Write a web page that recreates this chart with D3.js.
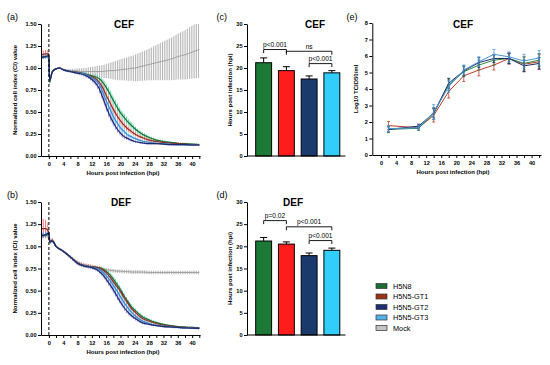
<!DOCTYPE html>
<html><head><meta charset="utf-8">
<script src="https://cdn.jsdelivr.net/npm/d3@7"></script>
<style>body{margin:0;background:#fff}svg{display:block}</style>
</head><body><svg id="c" width="550" height="365"></svg>
<script>
// ---------------- DATA ----------------
const groups = ["H5N8","H5N5-GT1","H5N5-GT2","H5N5-GT3","Mock"];
const hpi = [-2,-1,0,0.2,1,2,3,4,6,8,10,12,13,14,15,16,17,18,19,20,21,22,23,24,26,28,30,32,34,36,38,40,42];

// (a) CEF normalized cell index
const cefH5N8 = [1.12,1.13,1.13,0.84,0.96,0.99,1.0,0.98,0.96,0.95,0.935,0.91,0.90,0.88,0.84,0.78,0.71,0.63,0.56,0.49,0.44,0.39,0.35,0.31,0.25,0.21,0.18,0.165,0.155,0.145,0.14,0.135,0.13];
const cefGT1  = [1.15,1.16,1.16,0.86,0.96,0.99,1.0,0.98,0.96,0.95,0.93,0.90,0.88,0.84,0.78,0.69,0.61,0.53,0.46,0.40,0.35,0.31,0.28,0.25,0.21,0.18,0.165,0.155,0.145,0.14,0.135,0.13,0.13];
const cefGT2  = [1.12,1.13,1.14,0.86,0.96,0.99,1.0,0.98,0.96,0.94,0.92,0.87,0.83,0.77,0.67,0.56,0.46,0.38,0.31,0.26,0.22,0.20,0.18,0.165,0.15,0.14,0.14,0.135,0.13,0.13,0.13,0.125,0.125];
const cefGT3  = [1.12,1.13,1.13,0.86,0.96,0.99,1.0,0.98,0.96,0.945,0.93,0.89,0.86,0.82,0.73,0.63,0.54,0.45,0.38,0.32,0.28,0.24,0.22,0.20,0.17,0.155,0.145,0.14,0.135,0.13,0.13,0.125,0.125];
const cefMock = [1.13,1.14,1.14,0.88,0.97,0.99,1.0,0.98,0.97,0.965,0.96,0.96,0.96,0.96,0.96,0.965,0.97,0.97,0.975,0.98,0.985,0.99,0.995,1.0,1.02,1.04,1.06,1.08,1.1,1.13,1.15,1.18,1.21];
const cefSdH5N8 = [0.02,0.02,0.02,0.03,0.01,0.005,0.005,0.01,0.01,0.015,0.02,0.02,0.025,0.03,0.04,0.045,0.05,0.05,0.05,0.045,0.045,0.04,0.035,0.03,0.025,0.02,0.015,0.015,0.01,0.01,0.01,0.01,0.01];
const cefSdGT1  = [0.04,0.045,0.04,0.03,0.01,0.005,0.005,0.01,0.01,0.015,0.02,0.025,0.03,0.04,0.045,0.05,0.05,0.05,0.045,0.045,0.04,0.035,0.03,0.025,0.02,0.02,0.015,0.015,0.01,0.01,0.01,0.01,0.01];
const cefSdGT2  = [0.02,0.02,0.02,0.03,0.01,0.005,0.005,0.01,0.01,0.015,0.02,0.025,0.03,0.04,0.045,0.045,0.045,0.04,0.035,0.03,0.025,0.02,0.015,0.015,0.01,0.01,0.01,0.01,0.01,0.01,0.01,0.01,0.01];
const cefSdGT3  = [0.025,0.025,0.02,0.03,0.01,0.005,0.005,0.01,0.01,0.015,0.02,0.025,0.03,0.04,0.045,0.05,0.05,0.045,0.04,0.035,0.03,0.025,0.02,0.015,0.015,0.01,0.01,0.01,0.01,0.01,0.01,0.01,0.01];
const cefSdMock = [0.03,0.03,0.03,0.03,0.01,0.01,0.01,0.015,0.02,0.03,0.04,0.055,0.06,0.065,0.07,0.08,0.09,0.1,0.11,0.12,0.125,0.135,0.14,0.15,0.165,0.18,0.2,0.22,0.24,0.26,0.28,0.3,0.32];

// (b) DEF normalized cell index
const defH5N8 = [1.12,1.12,1.14,1.05,1.06,1.0,0.97,0.945,0.88,0.81,0.78,0.77,0.765,0.76,0.745,0.72,0.68,0.63,0.57,0.51,0.44,0.38,0.32,0.28,0.21,0.17,0.14,0.12,0.105,0.095,0.09,0.085,0.08];
const defGT1  = [1.2,1.2,1.16,1.06,1.07,1.0,0.97,0.945,0.88,0.815,0.785,0.77,0.765,0.755,0.735,0.70,0.655,0.60,0.545,0.49,0.42,0.36,0.30,0.26,0.19,0.155,0.13,0.11,0.1,0.09,0.085,0.08,0.078];
const defGT2  = [1.12,1.13,1.15,1.05,1.06,1.0,0.97,0.945,0.88,0.81,0.775,0.76,0.745,0.72,0.68,0.63,0.57,0.51,0.44,0.37,0.31,0.26,0.22,0.19,0.14,0.12,0.105,0.095,0.09,0.085,0.08,0.078,0.075];
const defGT3  = [1.13,1.13,1.15,1.05,1.06,1.0,0.97,0.945,0.88,0.81,0.78,0.765,0.755,0.74,0.71,0.67,0.62,0.56,0.5,0.43,0.365,0.31,0.26,0.22,0.16,0.13,0.11,0.1,0.09,0.085,0.08,0.078,0.075];
const defMock = [1.12,1.12,1.14,1.05,1.06,1.0,0.97,0.945,0.88,0.81,0.78,0.765,0.755,0.745,0.74,0.735,0.73,0.725,0.72,0.72,0.715,0.715,0.71,0.71,0.71,0.705,0.705,0.705,0.705,0.705,0.705,0.705,0.705];
const defSdH5N8 = [0.03,0.03,0.02,0.02,0.02,0.01,0.01,0.01,0.015,0.015,0.015,0.015,0.015,0.02,0.02,0.025,0.03,0.035,0.035,0.035,0.035,0.03,0.03,0.025,0.02,0.015,0.015,0.01,0.01,0.01,0.01,0.01,0.01];
const defSdGT1  = [0.11,0.1,0.06,0.03,0.02,0.01,0.01,0.015,0.02,0.025,0.025,0.025,0.02,0.02,0.025,0.03,0.035,0.035,0.035,0.035,0.03,0.03,0.025,0.025,0.02,0.015,0.015,0.01,0.01,0.01,0.01,0.01,0.01];
const defSdGT2  = [0.03,0.03,0.02,0.02,0.02,0.01,0.01,0.01,0.015,0.015,0.015,0.015,0.02,0.02,0.025,0.03,0.035,0.035,0.035,0.03,0.03,0.025,0.02,0.02,0.015,0.01,0.01,0.01,0.01,0.01,0.01,0.01,0.01];
const defSdGT3  = [0.03,0.03,0.02,0.02,0.02,0.01,0.01,0.01,0.015,0.015,0.015,0.015,0.02,0.02,0.025,0.03,0.035,0.04,0.04,0.035,0.035,0.03,0.025,0.02,0.02,0.015,0.01,0.01,0.01,0.01,0.01,0.01,0.01];
const defSdMock = [0.03,0.03,0.02,0.02,0.02,0.01,0.01,0.01,0.015,0.02,0.02,0.02,0.02,0.02,0.02,0.02,0.02,0.02,0.02,0.02,0.02,0.02,0.02,0.02,0.02,0.02,0.02,0.02,0.02,0.02,0.02,0.02,0.02];

// (c),(d) time to CPE (hpi), mean and error
const barGroups = ["H5N8","H5N5-GT1","H5N5-GT2","H5N5-GT3"];
const cefBarMean = [21.2,19.4,17.5,18.9];
const cefBarErr  = [1.1,0.9,0.7,0.5];
const defBarMean = [21.2,20.5,17.9,19.1];
const defBarErr  = [0.8,0.5,0.6,0.5];
// significance brackets: [fromIndex, toIndex, level (hpi), label]
const cefSig = [[0,1,24.2,"p<0.001"],[1,3,23.8,"ns"],[2,3,21.0,"p<0.001"]];
const defSig = [[0,1,25.8,"p=0.02"],[1,3,24.4,"p<0.001"],[2,3,21.3,"p<0.001"]];

// (e) CEF virus titres
const titreHpi = [2,10,14,18,22,26,30,34,38,42];
const titH5N8 = [1.55,1.62,2.5,4.25,5.05,5.45,5.75,5.85,5.55,5.75];
const titGT1  = [1.78,1.65,2.4,3.85,4.8,5.15,5.45,5.85,5.5,5.65];
const titGT2  = [1.55,1.75,2.55,4.35,5.1,5.6,5.85,5.85,5.4,5.55];
const titGT3  = [1.6,1.65,2.6,4.15,5.15,5.65,6.1,5.95,5.7,5.88];
const titSdH5N8 = [0.2,0.12,0.35,0.35,0.3,0.3,0.3,0.3,0.4,0.4];
const titSdGT1  = [0.25,0.15,0.4,0.4,0.35,0.35,0.3,0.35,0.45,0.45];
const titSdGT2  = [0.15,0.12,0.3,0.3,0.3,0.3,0.25,0.3,0.35,0.35];
const titSdGT3  = [0.18,0.15,0.45,0.35,0.3,0.3,0.3,0.3,0.4,0.45];

// tick values
const ciTicks = [0,0.25,0.5,0.75,1.0,1.25,1.5];
const hpiTicks = [0,2,4,6,8,10,12,14,16,18,20,22,24,26,28,30,32,34,36,38,40,42];
const barTicks = [0,5,10,15,20,25,30];
const titreTicks = [0,1,2,3,4,5,6,7,8];

// ---------------- STYLE ----------------
const FONT = '"Liberation Sans", Arial, Helvetica, sans-serif';
const lineCol = ["#1f6b34","#8e2f1f","#1b2a6b","#3f86d0","#9a9a9a"];
const bandCol = ["#4fd6a8","#f08080","#9a86e0","#5fd0f5","#b4b4b4"];
const barCol  = ["#1d7a36","#ff1c1c","#1a3a6e","#32cdfa"];
const legCol  = ["#1f6b34","#9a3616","#1c2f70","#56b2ea","#c4c4c4"];
const titCol  = ["#2a8a3c","#c0392b","#1b2a6b","#4a95dd"];

const svg = d3.select("#c");
const defs = svg.append("defs");
bandCol.forEach((c,i)=>{
  const p = defs.append("pattern").attr("id","hatch"+i).attr("patternUnits","userSpaceOnUse")
    .attr("width",1.8).attr("height",4);
  p.append("rect").attr("x",0).attr("y",0).attr("width",0.9).attr("height",4).attr("fill",c);
});

function styleAxis(g, fs){
  g.select(".domain").attr("stroke","#000").attr("stroke-width",1);
  g.selectAll(".tick line").attr("stroke","#000").attr("stroke-width",1);
  g.selectAll("text").attr("font-family",FONT).attr("font-size",fs||5.6).attr("font-weight","bold").attr("fill","#000");
}
function txt(x,y,s,opt){
  opt = opt||{};
  const t = svg.append("text").attr("x",x).attr("y",y).text(s)
    .attr("font-family",FONT).attr("font-size",opt.size||6).attr("font-weight",opt.weight||"normal")
    .attr("text-anchor",opt.anchor||"middle").attr("fill","#000");
  if(opt.rot) t.attr("transform",`rotate(-90,${x},${y})`);
  return t;
}

// ---------------- CI PANELS ----------------
function ciPanel(id, yTop, yBot, means, sds, title, label, titleX){
  const x = d3.scaleLinear().domain([-2.2,42.2]).range([41,200]);
  const y = d3.scaleLinear().domain([0,1.5]).range([yBot,yTop]);
  defs.append("clipPath").attr("id","clip"+id).append("rect")
    .attr("x",41).attr("y",yTop).attr("width",160).attr("height",yBot-yTop);
  const g = svg.append("g").attr("clip-path",`url(#clip${id})`);
  const rows = (k)=>hpi.map((h,i)=>({h, m:means[k][i], s:sds[k][i]}));
  [4,0,1,3,2].forEach(k=>{
    const area = d3.area().curve(d3.curveMonotoneX).x(d=>x(d.h)).y0(d=>y(d.m-d.s)).y1(d=>y(d.m+d.s));
    g.append("path").attr("d",area(rows(k))).attr("fill",`url(#hatch${k})`);
  });
  [4,0,1,3,2].forEach(k=>{
    const line = d3.line().curve(d3.curveMonotoneX).x(d=>x(d.h)).y(d=>y(d.m));
    g.append("path").attr("d",line(rows(k))).attr("fill","none").attr("stroke",lineCol[k])
      .attr("stroke-width",k===4?0.9:1.2);
  });
  svg.append("line").attr("x1",x(0)).attr("x2",x(0)).attr("y1",y(1.5)).attr("y2",y(0))
    .attr("stroke","#000").attr("stroke-width",1).attr("stroke-dasharray","3,2");
  const ay = svg.append("g").attr("transform","translate(41,0)")
    .call(d3.axisLeft(y).tickValues(ciTicks).tickFormat(d3.format(".2f")).tickSize(3).tickPadding(1.5).tickSizeOuter(0));
  styleAxis(ay);
  const ax = svg.append("g").attr("transform",`translate(0,${yBot})`)
    .call(d3.axisBottom(x).tickValues(hpiTicks).tickFormat(d=>d%4===0?d:"").tickSize(3).tickPadding(3).tickSizeOuter(0));
  styleAxis(ax);
  txt(titleX, yTop+3.5, title, {size:10,weight:"bold"});
  txt(7, yTop-4.5, label, {size:9,anchor:"start"});
  txt(123, yBot+19, "Hours post infection (hpi)", {size:6,weight:"bold"});
  txt(17, (yTop+yBot)/2, "Normalized cell index (CI) value", {size:6,weight:"bold",rot:true});
}
ciPanel("a",24,156,[cefH5N8,cefGT1,cefGT2,cefGT3,cefMock],[cefSdH5N8,cefSdGT1,cefSdGT2,cefSdGT3,cefSdMock],"CEF","(a)",124);
ciPanel("b",202,335,[defH5N8,defGT1,defGT2,defGT3,defMock],[defSdH5N8,defSdGT1,defSdGT2,defSdGT3,defSdMock],"DEF","(b)",121);

// ---------------- BAR PANELS ----------------
function barPanel(yTop, yBot, mean, err, sig, title, label, titleX){
  const x = d3.scaleBand().domain(barGroups).range([250,345.5]).paddingInner(0.3).paddingOuter(0.25);
  const y = d3.scaleLinear().domain([0,30]).range([yBot,yTop]);
  const bw = x.bandwidth();
  barGroups.forEach((gname,i)=>{
    const cx = x(gname)+bw/2;
    svg.append("line").attr("x1",cx).attr("x2",cx).attr("y1",y(mean[i])).attr("y2",y(mean[i]+err[i])).attr("stroke","#000").attr("stroke-width",1);
    svg.append("line").attr("x1",cx-3.5).attr("x2",cx+3.5).attr("y1",y(mean[i]+err[i])).attr("y2",y(mean[i]+err[i])).attr("stroke","#000").attr("stroke-width",1);
  });
  svg.append("g").selectAll("rect").data(barGroups).join("rect")
    .attr("x",d=>x(d)).attr("width",bw)
    .attr("y",(d,i)=>y(mean[i])).attr("height",(d,i)=>yBot-y(mean[i]))
    .attr("fill",(d,i)=>barCol[i]).attr("stroke","#000").attr("stroke-width",1);
  const ay = svg.append("g").attr("transform","translate(247,0)")
    .call(d3.axisLeft(y).tickValues(barTicks).tickSize(3).tickPadding(1.5).tickSizeOuter(0));
  styleAxis(ay);
  svg.append("line").attr("x1",247).attr("x2",345.5).attr("y1",yBot).attr("y2",yBot).attr("stroke","#000").attr("stroke-width",1);
  sig.forEach(([a,b,lev,lab])=>{
    const x1 = x(barGroups[a])+bw/2, x2 = x(barGroups[b])+bw/2, yy = y(lev);
    svg.append("path").attr("d",`M${x1},${yy+3.5}V${yy}H${x2}V${yy+3.5}`).attr("fill","none").attr("stroke","#000").attr("stroke-width",0.9);
    txt((x1+x2)/2, yy-2.5, lab, {size:6.6});
  });
  txt(titleX, yTop+4, title, {size:10,weight:"bold"});
  txt(216.5, yTop-4.5, label, {size:9,anchor:"start"});
  txt(232, (yTop+yBot)/2, "Hours post infection (hpi)", {size:6,weight:"bold",rot:true});
}
barPanel(24,156,cefBarMean,cefBarErr,cefSig,"CEF","(c)",315);
barPanel(202,335,defBarMean,defBarErr,defSig,"DEF","(d)",293);

// ---------------- TITRE PANEL ----------------
(function(){
  const x = d3.scaleLinear().domain([-2.3,42.5]).range([372.3,541]);
  const y = d3.scaleLinear().domain([0,8]).range([155,23]);
  const series = [titH5N8,titGT1,titGT2,titGT3];
  const sds = [titSdH5N8,titSdGT1,titSdGT2,titSdGT3];
  [1,0,2,3].forEach(k=>{
    const rows = titreHpi.map((h,i)=>({h,m:series[k][i],s:sds[k][i]}));
    const g = svg.append("g");
    rows.forEach(d=>{
      g.append("line").attr("x1",x(d.h)).attr("x2",x(d.h)).attr("y1",y(d.m-d.s)).attr("y2",y(d.m+d.s)).attr("stroke",titCol[k]).attr("stroke-width",0.8);
      [d.m-d.s,d.m+d.s].forEach(v=>g.append("line").attr("x1",x(d.h)-1.5).attr("x2",x(d.h)+1.5).attr("y1",y(v)).attr("y2",y(v)).attr("stroke",titCol[k]).attr("stroke-width",0.8));
    });
    g.append("path").attr("d",d3.line().x(d=>x(d.h)).y(d=>y(d.m))(rows)).attr("fill","none").attr("stroke",titCol[k]).attr("stroke-width",1);
  });
  const ay = svg.append("g").attr("transform","translate(372.3,0)")
    .call(d3.axisLeft(y).tickValues(titreTicks).tickSize(3).tickPadding(1.5).tickSizeOuter(0));
  styleAxis(ay);
  const ax = svg.append("g").attr("transform","translate(0,155)")
    .call(d3.axisBottom(x).tickValues(hpiTicks).tickFormat(d=>d%4===0?d:"").tickSize(3).tickPadding(3).tickSizeOuter(0));
  styleAxis(ax);
  txt(463, 27.5, "CEF", {size:10,weight:"bold"});
  txt(346.5, 19.5, "(e)", {size:9,anchor:"start"});
  txt(453, 174, "Hours post infection (hpi)", {size:6,weight:"bold"});
  txt(358, 89, "Log10 TCID50/ml", {size:6,weight:"bold",rot:true});
})();

// ---------------- LEGEND ----------------
groups.forEach((gname,i)=>{
  const yy = 286 + i*10.5;
  svg.append("rect").attr("x",376).attr("y",yy-2.5).attr("width",11).attr("height",5)
    .attr("fill",legCol[i]).attr("stroke","#333").attr("stroke-width",0.7);
  txt(393, yy+2.6, gname, {size:7.3,anchor:"start"});
});
</script></body></html>
